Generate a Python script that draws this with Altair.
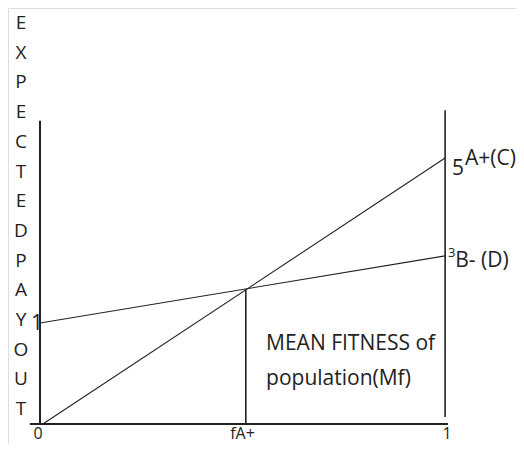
import altair as alt
import pandas as pd

# ---- data ----
# line A+ (C): payoff at x=0 and x=1
a_x = [0.007, 1.0]
a_y = [0.0, 5.0]
# line B- (D)
b_x = [0.0, 1.0]
b_y = [1.90, 3.16]
# intersection / fA+
f_x = 0.508
f_y = 2.53
# frame lines
left_axis_top = 5.70
right_line = [0.13, 5.90]
bottom_axis = [-0.025, 1.007]

ylabel = "E\nX\nP\nE\nC\nT\nE\nD\nP\nA\nY\nO\nU\nT"

INK = "#222222"
FONT = "Open Sans"

xs = alt.Scale(domain=[-0.079, 1.175], nice=False, zero=False)
ys = alt.Scale(domain=[-0.357, 7.82], nice=False, zero=False)


def X(f="x"):
    return alt.X(f + ":Q", scale=xs, axis=None)


def Y(f="y"):
    return alt.Y(f + ":Q", scale=ys, axis=None)


# axes drawn as rules
frame = pd.DataFrame({
    "x": [0.0, bottom_axis[0], 1.0, f_x],
    "x2": [0.0, bottom_axis[1], 1.0, f_x],
    "y": [0.0, 0.0, right_line[0], 0.0],
    "y2": [left_axis_top, 0.0, right_line[1], f_y],
    "w": [2.0, 2.0, 1.6, 1.6],
})
frame_layer = alt.Chart(frame).mark_rule(color=INK).encode(
    x=X(), x2="x2:Q", y=Y(), y2="y2:Q",
    strokeWidth=alt.StrokeWidth("w:Q", scale=None),
)

lines = pd.DataFrame({
    "x": a_x + b_x,
    "y": a_y + b_y,
    "s": ["A", "A", "B", "B"],
})
line_layer = alt.Chart(lines).mark_line(color=INK, strokeWidth=1.1).encode(
    x=X(), y=Y(), detail="s:N"
)

# centred labels under the base line
c_lab = pd.DataFrame({
    "x": [-0.005, 0.5, 1.005],
    "y": [-0.273, -0.273, -0.273],
    "t": ["0", "fA+", "1"],
})
c_layer = alt.Chart(c_lab).mark_text(
    font=FONT, fontSize=16, color=INK, align="center", baseline="alphabetic"
).encode(x=X(), y=Y(), text="t:N")

# left aligned labels
l_lab = pd.DataFrame({
    "x": [1.017, 1.049, 1.025, -0.022, 0.558, 0.558],
    "y": [4.68, 4.87, 2.95, 1.77, 1.39, 0.733],
    "t": ["5", "A+(C)", "B- (D)", "1", "MEAN FITNESS of", "population(Mf)"],
})
l_layer = alt.Chart(l_lab).mark_text(
    font=FONT, fontSize=21, color=INK, align="left", baseline="alphabetic"
).encode(x=X(), y=Y(), text="t:N")

small = pd.DataFrame({"x": [1.007], "y": [3.14], "t": ["3"]})
s_layer = alt.Chart(small).mark_text(
    font=FONT, fontSize=13, color=INK, align="left", baseline="alphabetic"
).encode(x=X(), y=Y(), text="t:N")

vt = pd.DataFrame({"x": [-0.047], "y": [7.425], "t": [ylabel]})
v_layer = alt.Chart(vt).mark_text(
    font=FONT, fontSize=19, color=INK, align="center", baseline="alphabetic",
    lineBreak="\n", lineHeight=29.7,
).encode(x=X(), y=Y(), text="t:N")

chart = alt.layer(
    frame_layer, line_layer, c_layer, l_layer, s_layer, v_layer
).properties(
    width=508, height=435,
    autosize=alt.AutoSizeParams(type="none"),
    padding=0,
).configure_view(stroke=None).configure(background="white")

chart.save("out.html", embed_options={"renderer": "svg", "actions": False})
